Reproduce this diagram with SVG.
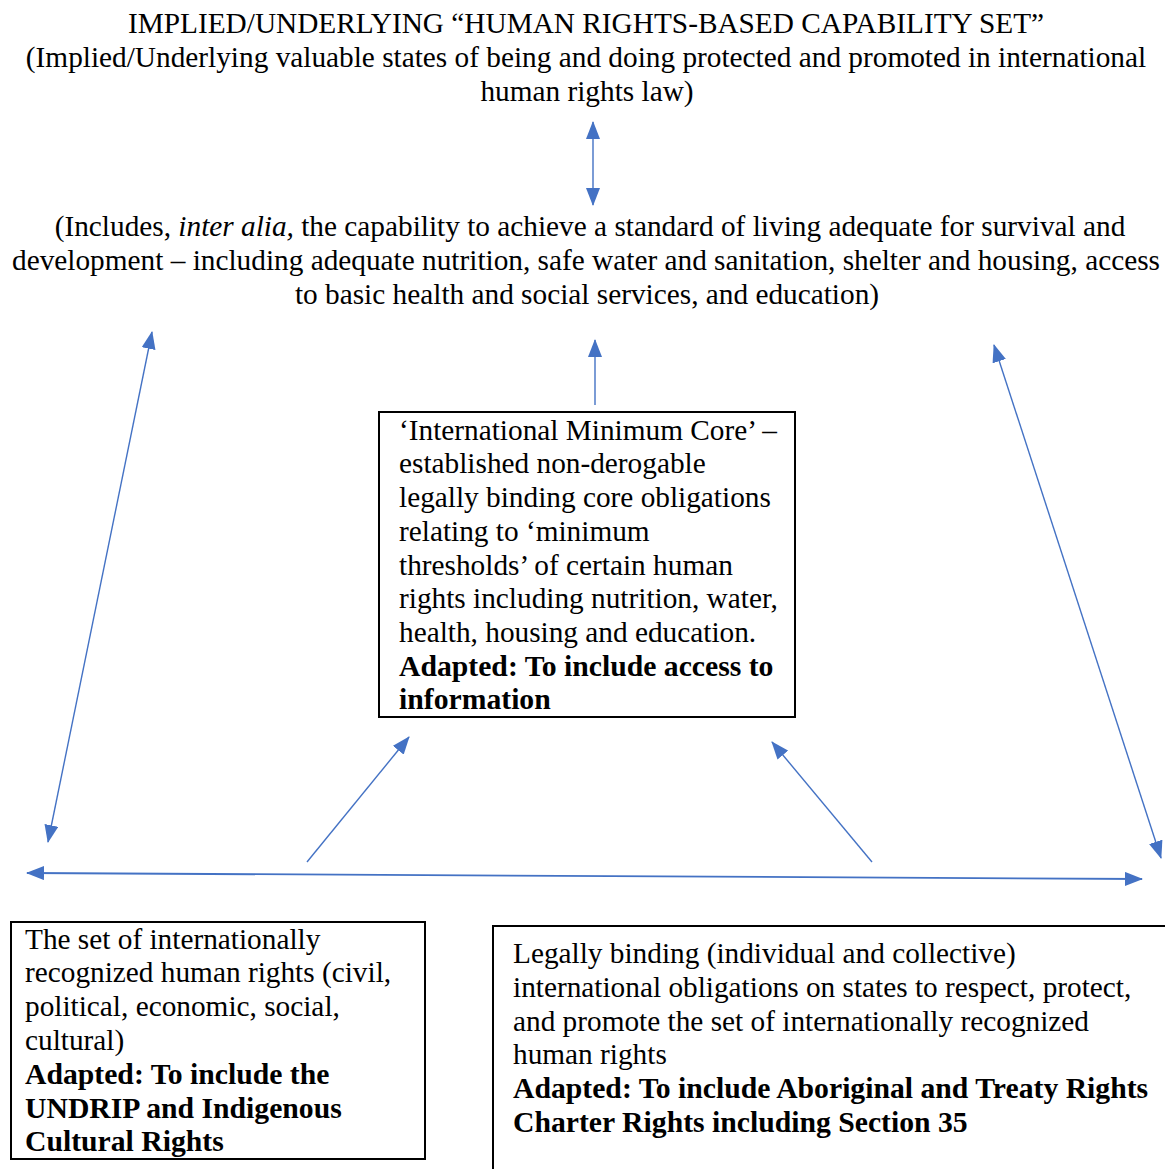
<svg xmlns="http://www.w3.org/2000/svg" width="1165" height="1169" viewBox="0 0 1165 1169">
<style>
text{font-family:"Liberation Serif","Times New Roman",serif;font-size:29.3px;fill:#000}
.c{text-anchor:middle}
.b{font-weight:bold;font-size:29.7px}
.i{font-style:italic}
.box{fill:#fff;stroke:#000;stroke-width:2}
.con{stroke:#4472C4;stroke-width:1.4;fill:none}
</style>
<defs>
<marker id="ah" markerUnits="userSpaceOnUse" markerWidth="18" markerHeight="14" refX="17" refY="7" orient="auto-start-reverse" viewBox="0 0 18 14">
<path d="M0,0 L18,7 L0,14 z" fill="#4472C4"/>
</marker>
</defs>
<rect width="1165" height="1169" fill="#fff"/>
<g id="top-text">
<text class="c" x="586" y="33">IMPLIED/UNDERLYING “HUMAN RIGHTS-BASED CAPABILITY SET”</text>
<text class="c" x="586" y="67">(Implied/Underlying valuable states of being and doing protected and promoted in international</text>
<text class="c" x="587" y="101">human rights law)</text>
</g>
<g id="includes-text">
<text class="c" x="590" y="236">(Includes, <tspan class="i">inter alia,</tspan> the capability to achieve a standard of living adequate for survival and</text>
<text class="c" x="586" y="270">development – including adequate nutrition, safe water and sanitation, shelter and housing, access</text>
<text class="c" x="587" y="304">to basic health and social services, and education)</text>
</g>
<g id="core-box">
<rect class="box" x="379" y="412" width="416" height="305"/>
<text x="399" y="440">‘International Minimum Core’ –</text>
<text x="399" y="473">established non-derogable</text>
<text x="399" y="507">legally binding core obligations</text>
<text x="399" y="541">relating to ‘minimum</text>
<text x="399" y="575">thresholds’ of certain human</text>
<text x="399" y="608">rights including nutrition, water,</text>
<text x="399" y="642">health, housing and education.</text>
<text class="b" x="399" y="676">Adapted: To include access to</text>
<text class="b" x="399" y="709">information</text>
</g>
<g id="rights-box">
<rect class="box" x="11" y="922" width="414" height="237"/>
<text x="25" y="949">The set of internationally</text>
<text x="25" y="982">recognized human rights (civil,</text>
<text x="25" y="1016">political, economic, social,</text>
<text x="25" y="1050">cultural)</text>
<text class="b" x="25" y="1084">Adapted: To include the</text>
<text class="b" x="25" y="1118">UNDRIP and Indigenous</text>
<text class="b" x="25" y="1151">Cultural Rights</text>
</g>
<g id="obligations-box">
<rect class="box" x="493" y="926" width="690" height="260"/>
<text x="513" y="963">Legally binding (individual and collective)</text>
<text x="513" y="997">international obligations on states to respect, protect,</text>
<text x="513" y="1031">and promote the set of internationally recognized</text>
<text x="513" y="1064">human rights</text>
<text class="b" x="513" y="1098">Adapted: To include Aboriginal and Treaty Rights</text>
<text class="b" x="513" y="1132">Charter Rights including Section 35</text>
</g>
<g id="connectors">
<line class="con" x1="593" y1="122" x2="593" y2="205" marker-start="url(#ah)" marker-end="url(#ah)"/>
<line class="con" x1="595" y1="405" x2="595" y2="340" marker-end="url(#ah)"/>
<line class="con" x1="152" y1="332" x2="48" y2="842" marker-start="url(#ah)" marker-end="url(#ah)"/>
<line class="con" x1="994" y1="345" x2="1161" y2="858" marker-start="url(#ah)" marker-end="url(#ah)"/>
<line class="con" x1="307" y1="862" x2="409" y2="737" marker-end="url(#ah)"/>
<line class="con" x1="872" y1="862" x2="772" y2="742" marker-end="url(#ah)"/>
<line class="con" style="stroke-width:1.8" x1="27" y1="873" x2="1142" y2="879" marker-start="url(#ah)" marker-end="url(#ah)"/>
</g>
</svg>
